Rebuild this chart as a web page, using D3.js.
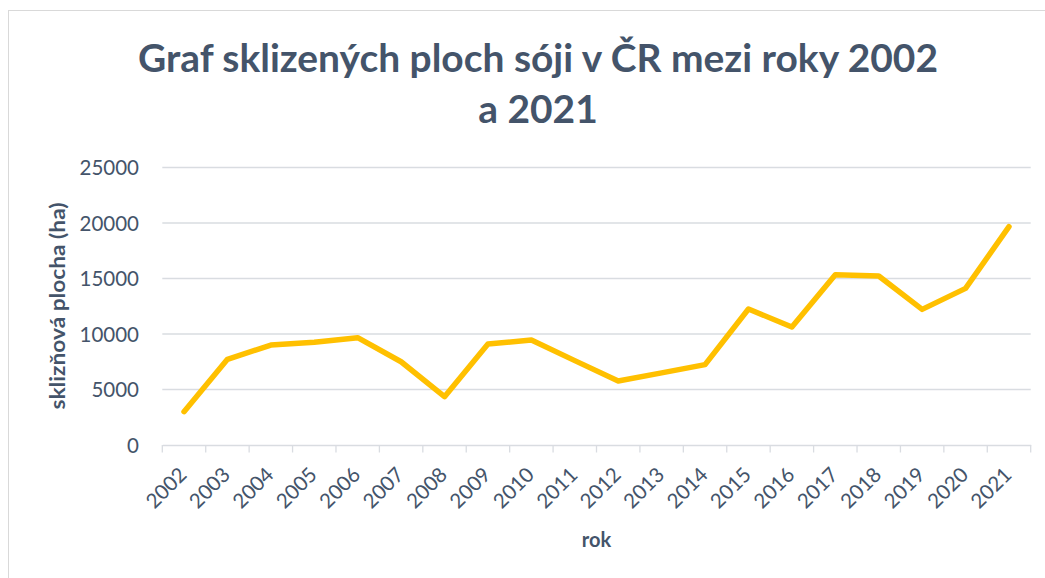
<!DOCTYPE html>
<html>
<head>
<meta charset="utf-8">
<script src="https://cdn.jsdelivr.net/npm/d3@7"></script>
<style>
  html, body { margin: 0; padding: 0; background: #ffffff; }
  svg { display: block; }
</style>
</head>
<body>
<svg id="chart" width="1045" height="578"></svg>
<script>
const years = ["2002","2003","2004","2005","2006","2007","2008","2009","2010","2011",
               "2012","2013","2014","2015","2016","2017","2018","2019","2020","2021"];
const area = [3000, 7720, 9000, 9250, 9670, 7500, 4350, 9100, 9460, 7600,
              5770, 6500, 7240, 12250, 10630, 15340, 15230, 12220, 14110, 19670];
const yTicks = [0, 5000, 10000, 15000, 20000, 25000];
const titleLines = ["Graf sklizených ploch sóji v ČR mezi roky 2002", "a 2021"];
const yTitle = "sklizňová plocha (ha)";
const xTitle = "rok";

const textColor = "#44546A";
const gridColor = "#d9dce1";
const lineColor = "#FFC000";
const font = "Lato, 'Open Sans', sans-serif";

const svg = d3.select("#chart");

// outer chart border
svg.append("rect")
  .attr("x", 8.5).attr("y", 10.5)
  .attr("width", 1100).attr("height", 700)
  .attr("fill", "#ffffff")
  .attr("stroke", "#d9d9d9").attr("stroke-width", 1);

const plot = { left: 162.3, right: 1030.7, top: 167.5, bottom: 445 };

const x = d3.scaleBand().domain(years).range([plot.left, plot.right]).padding(0);
const y = d3.scaleLinear().domain([0, 25000]).range([plot.bottom, plot.top]);

// gridlines
svg.append("g").selectAll("line").data(yTicks.filter(d => d !== 0)).join("line")
  .attr("x1", plot.left).attr("x2", plot.right)
  .attr("y1", d => y(d)).attr("y2", d => y(d))
  .attr("stroke", gridColor).attr("stroke-width", 1.3);

// y axis labels
const yAxis = d3.axisLeft(y).tickValues(yTicks).tickSize(0).tickPadding(0).tickFormat(d3.format("d"));
const yg = svg.append("g").attr("transform", `translate(139,0)`).call(yAxis);
yg.select(".domain").remove();
yg.selectAll("text")
  .attr("x", 0).attr("dy", "0.35em")
  .attr("fill", textColor)
  .style("font-family", font).style("font-size", "20.5px");

// x axis
const xAxis = d3.axisBottom(x).tickSize(0).tickFormat(d => d);
const xg = svg.append("g").attr("transform", `translate(0,${plot.bottom})`).call(xAxis);
xg.select(".domain").attr("stroke", gridColor).attr("stroke-width", 1.3);
// tick marks at band boundaries
const bounds = years.map(d => x(d)).concat([x(years[years.length - 1]) + x.bandwidth()]);
xg.selectAll(".bound").data(bounds).join("line").attr("class", "bound")
  .attr("x1", d => d).attr("x2", d => d)
  .attr("y1", 0).attr("y2", 7.5)
  .attr("stroke", gridColor).attr("stroke-width", 1.3);
xg.selectAll(".tick text")
  .attr("fill", textColor)
  .style("font-family", font).style("font-size", "20.5px")
  .attr("text-anchor", "end")
  .attr("x", 0).attr("y", 0).attr("dy", 0)
  .attr("transform", "translate(4,31) rotate(-45)");

// line
const line = d3.line()
  .x((d, i) => x(years[i]) + x.bandwidth() / 2)
  .y(d => y(d));
svg.append("path")
  .datum(area)
  .attr("d", line)
  .attr("fill", "none")
  .attr("stroke", lineColor)
  .attr("stroke-width", 5.5)
  .attr("stroke-linecap", "round")
  .attr("stroke-linejoin", "round");

// title
const titleG = svg.append("g");
const titleBaselines = [72, 123];
titleLines.forEach((t, i) => {
  titleG.append("text")
    .attr("x", 538).attr("y", titleBaselines[i])
    .attr("text-anchor", "middle")
    .attr("fill", textColor)
    .style("font-family", font).style("font-weight", "bold").style("font-size", "39px")
    .text(t);
});
// fit first line to target width
const t0 = titleG.select("text").node();
const target = 800;
const w0 = t0.getComputedTextLength();
titleG.selectAll("text").each(function() {
  const w = this.getComputedTextLength();
  d3.select(this).attr("textLength", w * target / w0).attr("lengthAdjust", "spacingAndGlyphs");
});

// axis titles
svg.append("text")
  .attr("transform", `translate(65,306) rotate(-90)`)
  .attr("text-anchor", "middle")
  .attr("fill", textColor)
  .style("font-family", font).style("font-weight", "bold").style("font-size", "21px")
  .attr("textLength", 207).attr("lengthAdjust", "spacingAndGlyphs")
  .text(yTitle);

svg.append("text")
  .attr("x", (plot.left + plot.right) / 2).attr("y", 546.7)
  .attr("text-anchor", "middle")
  .attr("fill", textColor)
  .style("font-family", font).style("font-weight", "bold").style("font-size", "20px")
  .text(xTitle);
</script>
</body>
</html>
